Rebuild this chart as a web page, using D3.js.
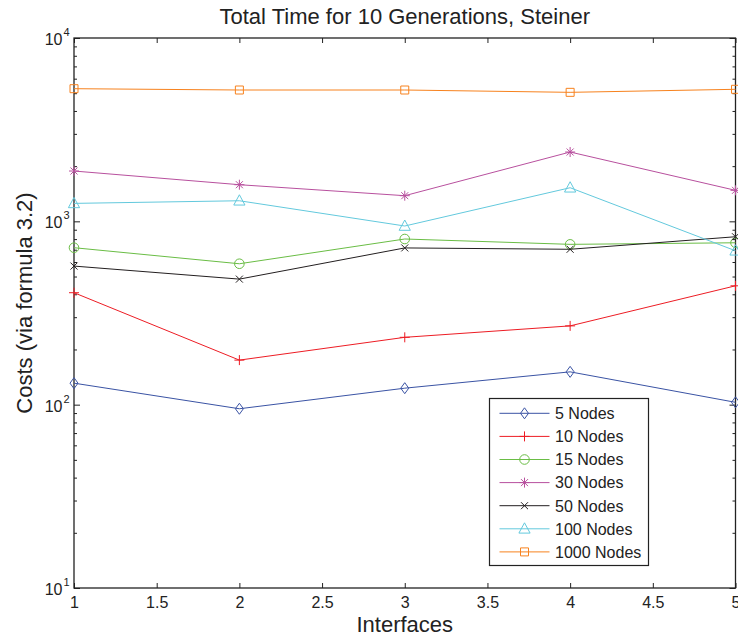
<!DOCTYPE html>
<html>
<head>
<meta charset="utf-8">
<script src="https://cdn.jsdelivr.net/npm/d3@7"></script>
<style>
  html, body { margin: 0; padding: 0; background: #fff; }
  svg { display: block; font-family: "Liberation Sans", Arial, Helvetica, sans-serif; }
</style>
</head>
<body>
<svg id="chart" width="738" height="641"></svg>
<script>
// ---- data ----
const interfaces = [1, 2, 3, 4, 5];
const seriesNames = ["5 Nodes", "10 Nodes", "15 Nodes", "30 Nodes", "50 Nodes", "100 Nodes", "1000 Nodes"];
const nodes5    = [131, 95, 123, 151, 103];
const nodes10   = [408, 175, 233, 269, 445];
const nodes15   = [718, 587, 801, 749, 764];
const nodes30   = [1881, 1584, 1380, 2388, 1476];
const nodes50   = [570, 484, 716, 704, 824];
const nodes100  = [1253, 1295, 943, 1525, 691];
const nodes1000 = [5290, 5204, 5204, 5054, 5250];
const xTicks = [1, 1.5, 2, 2.5, 3, 3.5, 4, 4.5, 5];
const yMajorTicks = [10, 100, 1000, 10000];
const yTickExponents = ["1", "2", "3", "4"];
const titleText = "Total Time for 10 Generations, Steiner";
const xLabelText = "Interfaces";
const yLabelText = "Costs (via formula 3.2)";

(function () {
// ---- styling ----
const colors = ["#3a53a4", "#ed1c24", "#6abd45", "#b8509e", "#231f20", "#63c9dd", "#f7821e"];
const markers = ["diamond", "plus", "circle", "star", "x", "triangle", "square"];
const seriesValues = [nodes5, nodes10, nodes15, nodes30, nodes50, nodes100, nodes1000];

const markerPath = {
  diamond: "M0,-5.5L4,0L0,5.5L-4,0Z",
  plus: "M-5,0H5M0,-5V5",
  circle: "M4.8,0A4.8,4.8 0 1,1 -4.8,0A4.8,4.8 0 1,1 4.8,0Z",
  star: "M-5,0H5M0,-5V5M-3.5,-3.5L3.5,3.5M-3.5,3.5L3.5,-3.5",
  x: "M-3.5,-3.5L3.5,3.5M-3.5,3.5L3.5,-3.5",
  triangle: "M0,-6L5.6,4.3H-5.6Z",
  square: "M-4,-4H4V4H-4Z"
};

const svg = d3.select("#chart");
const mLeft = 74, mRight = 735.5, mTop = 38, mBottom = 588;

const x = d3.scaleLinear().domain([1, 5]).range([mLeft, mRight]);
const y = d3.scaleLog().domain([10, 10000]).range([mBottom, mTop]);

const textColor = "#222";

// minor log ticks
const yMinor = [];
for (let d = 10; d < 10000; d *= 10) {
  for (let k = 2; k <= 9; k++) yMinor.push(d * k);
}

const axisG = svg.append("g");

const gB = axisG.append("g").attr("transform", `translate(0,${mBottom})`)
  .call(d3.axisBottom(x).tickValues(xTicks).tickSize(-5).tickPadding(9).tickFormat(d3.format("")));
axisG.append("g").attr("transform", `translate(0,${mTop})`)
  .call(d3.axisTop(x).tickValues(xTicks).tickSize(-5).tickFormat(""));
axisG.append("g").attr("transform", `translate(${mLeft},0)`)
  .call(d3.axisLeft(y).tickValues(yMinor).tickSize(-3).tickFormat(""));
axisG.append("g").attr("transform", `translate(${mLeft},0)`)
  .call(d3.axisLeft(y).tickValues(yMajorTicks).tickSize(-6).tickFormat(""));
axisG.append("g").attr("transform", `translate(${mRight},0)`)
  .call(d3.axisRight(y).tickValues(yMinor).tickSize(-3).tickFormat(""));
axisG.append("g").attr("transform", `translate(${mRight},0)`)
  .call(d3.axisRight(y).tickValues(yMajorTicks).tickSize(-6).tickFormat(""));

axisG.selectAll(".domain").remove();
axisG.selectAll(".tick line").attr("stroke", "#222").attr("stroke-width", 1);
gB.selectAll(".tick text").attr("font-size", 16).attr("fill", textColor)
  .attr("font-family", "Liberation Sans, Arial, sans-serif");

// frame
svg.append("rect")
  .attr("x", mLeft).attr("y", mTop)
  .attr("width", mRight - mLeft).attr("height", mBottom - mTop)
  .attr("fill", "none").attr("stroke", "#222").attr("stroke-width", 1.3);

// y major labels with superscript
const yl = svg.append("g");
yMajorTicks.forEach((v, i) => {
  yl.append("text")
    .attr("x", 62.5).attr("y", y(v) + 7)
    .attr("text-anchor", "end")
    .attr("font-size", 16).attr("fill", textColor)
    .text("10");
  yl.append("text")
    .attr("x", 63.5).attr("y", y(v) - 2)
    .attr("font-size", 11).attr("fill", textColor)
    .text(yTickExponents[i]);
});

// series
const line = d3.line().x((d, i) => x(interfaces[i])).y(d => y(d));
const plot = svg.append("g");
seriesValues.forEach((vals, si) => {
  plot.append("path")
    .attr("d", line(vals))
    .attr("fill", "none").attr("stroke", colors[si]).attr("stroke-width", 1);
  plot.selectAll(null).data(vals).enter().append("path")
    .attr("transform", (d, i) => `translate(${x(interfaces[i])},${y(d)})`)
    .attr("d", markerPath[markers[si]])
    .attr("fill", "none").attr("stroke", colors[si]).attr("stroke-width", 1);
});

// legend
const lg = svg.append("g");
lg.append("rect").attr("x", 489.5).attr("y", 398.5).attr("width", 159).attr("height", 167)
  .attr("fill", "#fff").attr("stroke", "#222").attr("stroke-width", 1.2);
seriesNames.forEach((name, i) => {
  const cy = 413.3 + i * 23.1;
  lg.append("line").attr("x1", 499.5).attr("x2", 549.5).attr("y1", cy).attr("y2", cy)
    .attr("stroke", colors[i]).attr("stroke-width", 1);
  lg.append("path").attr("transform", `translate(524.5,${cy})`).attr("d", markerPath[markers[i]])
    .attr("fill", "none").attr("stroke", colors[i]).attr("stroke-width", 1);
  lg.append("text").attr("x", 555).attr("y", cy + 5.8)
    .attr("font-size", 16).attr("fill", textColor).text(name);
});

// title and labels
svg.append("text").attr("x", (mLeft + mRight) / 2).attr("y", 23.5)
  .attr("text-anchor", "middle").attr("font-size", 22).attr("fill", textColor).text(titleText);
svg.append("text").attr("x", (mLeft + mRight) / 2).attr("y", 632)
  .attr("text-anchor", "middle").attr("font-size", 22).attr("fill", textColor).text(xLabelText);
svg.append("text").attr("transform", `translate(32,303) rotate(-90)`)
  .attr("text-anchor", "middle").attr("font-size", 22).attr("fill", textColor).text(yLabelText);
})();
</script>
</body>
</html>
